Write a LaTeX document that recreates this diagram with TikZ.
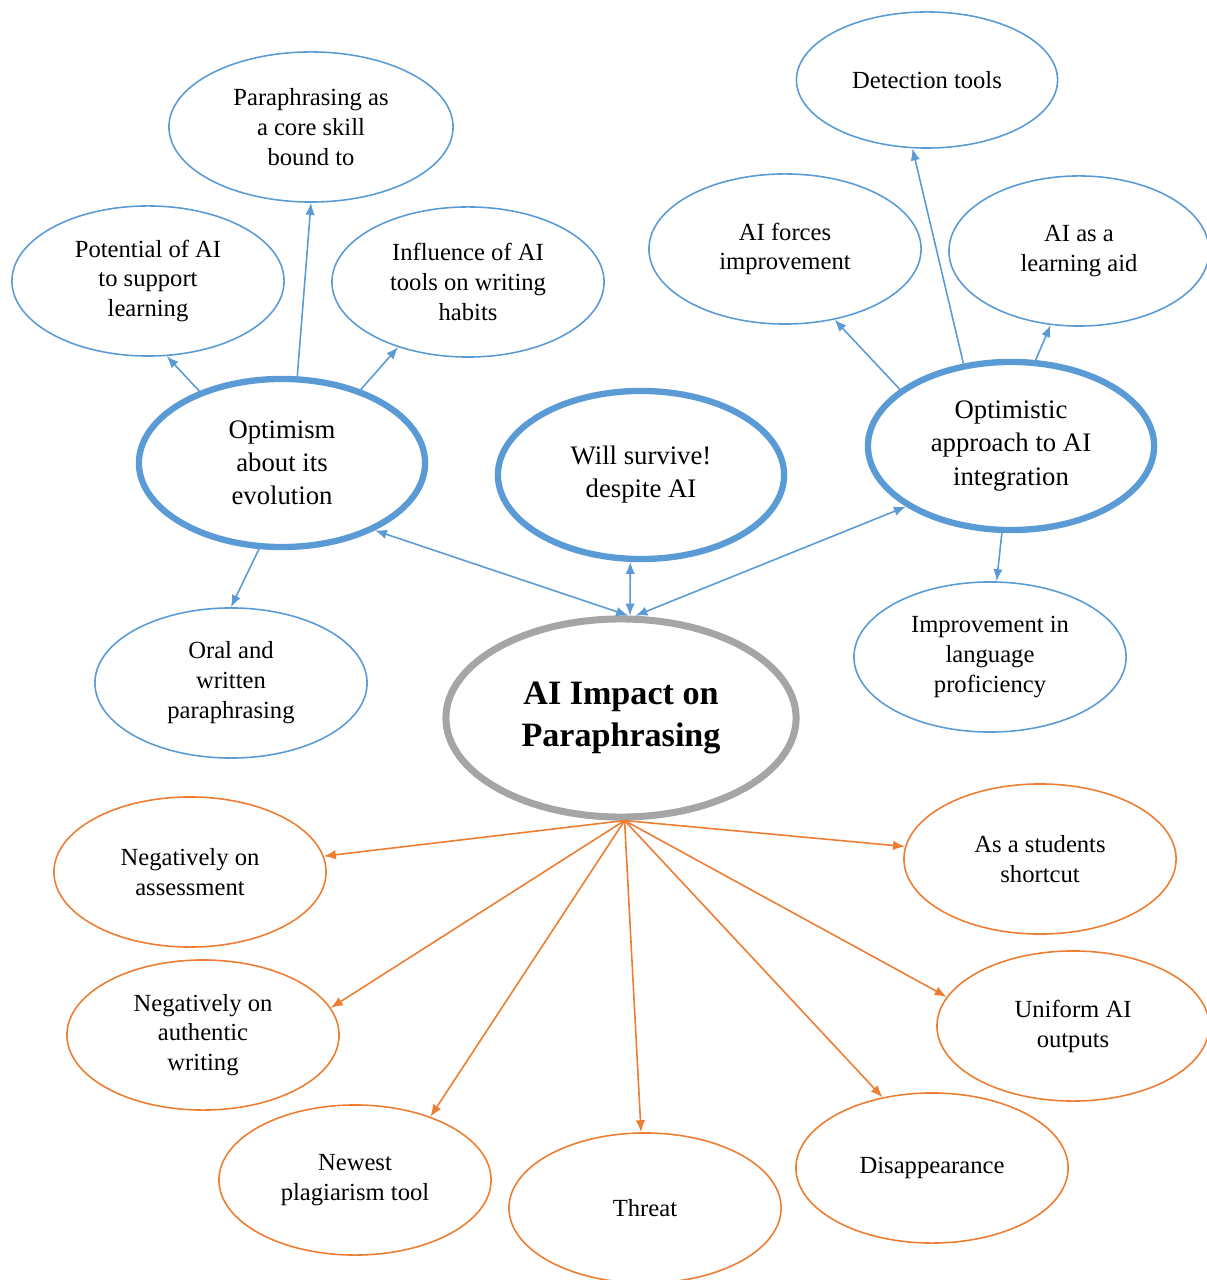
\documentclass[tikz,border=0pt]{standalone}
\usepackage{fontspec}
\setmainfont{Liberation Serif}
\usetikzlibrary{shapes.geometric,arrows.meta}
\definecolor{topicblue}{HTML}{5B9BD5}
\definecolor{topicorange}{HTML}{ED7D31}
\definecolor{coregray}{HTML}{A5A5A5}
\begin{document}
\begin{tikzpicture}[x=0.01cm,y=-0.01cm,
	>={Latex[length=1.2mm,width=0.95mm]},
	leaf/.style={ellipse,draw,line width=0.45pt,inner sep=0pt,align=center,
		minimum width=2.72cm,minimum height=1.5cm,font=\fontsize{7}{8.5}\selectfont},
	blueleaf/.style={leaf,draw=topicblue},
	orangeleaf/.style={leaf,draw=topicorange},
	theme/.style={ellipse,draw=topicblue,line width=1.8pt,inner sep=0pt,align=center,
		minimum width=2.86cm,minimum height=1.68cm,font=\fontsize{7.6}{9.4}\selectfont},
	core/.style={ellipse,draw=coregray,line width=2pt,inner sep=0pt,align=center,
		minimum width=3.5cm,minimum height=1.98cm,font=\bfseries\fontsize{9.7}{11.9}\selectfont},
	bluearrow/.style={draw=topicblue,line width=0.45pt,->},
	bluedouble/.style={draw=topicblue,line width=0.45pt,<->},
	orangearrow/.style={draw=topicorange,line width=0.45pt,->}]
	\useasboundingbox (0,0) rectangle (1206,1280);
	
	\node[core]  (imp)  at (621, 718)  {AI Impact on\\Paraphrasing};
	
	\node[theme] (opt)  at (282, 463)  {Optimism\\about its\\evolution};
	\node[theme] (will) at (641, 475)  {Will survive!\\despite AI};
	\node[theme] (app)  at (1011, 446) {Optimistic\\approach to AI\\integration};
	
	\node[blueleaf] (pot)  at (148, 281)  {Potential of AI\\to support\\learning};
	\node[blueleaf,minimum width=2.84cm] (core) at (311, 127) {Paraphrasing as\\a core skill\\bound to};
	\node[blueleaf] (infl) at (468, 282)  {Influence of AI\\tools on writing\\habits};
	\node[blueleaf] (oral) at (231, 683)  {Oral and\\written\\paraphrasing};
	\node[blueleaf,minimum width=2.61cm,minimum height=1.36cm] (det) at (927, 80) {Detection tools};
	\node[blueleaf] (forc) at (785, 249)  {AI forces\\improvement};
	\node[blueleaf,minimum width=2.6cm] (aid) at (1079, 251) {AI as a\\learning aid};
	\node[blueleaf] (prof) at (990, 657)  {Improvement in\\language\\proficiency};
	
	\node[orangeleaf] (asse) at (190, 872)  {Negatively on\\assessment};
	\node[orangeleaf] (shor) at (1040, 859) {As a students\\shortcut};
	\node[orangeleaf] (auth) at (203, 1035) {Negatively on\\authentic\\writing};
	\node[orangeleaf] (unif) at (1073, 1026) {Uniform AI\\outputs};
	\node[orangeleaf] (newt) at (355, 1180) {Newest\\plagiarism tool};
	\node[orangeleaf] (thr)  at (645, 1208) {Threat};
	\node[orangeleaf] (dis)  at (932, 1168) {Disappearance};
	
	% upper branches
	\draw[bluearrow] (opt.139) -- (pot.-76);
	\draw[bluearrow] (opt.80) -- (core.south);
	\draw[bluearrow] (opt.43) -- (infl.-137);
	\draw[bluearrow] (opt.-105) -- (oral.north);
	\draw[bluearrow] (app.153) -- (forc.-55);
	\draw[bluearrow] (app.120) -- (det.-102);
	\draw[bluearrow] (app.74) -- (aid.-111);
	\draw[bluearrow] (app.-96) -- (prof.85);
	\draw[bluedouble] (imp.86) -- (opt.-36);
	\draw[bluedouble] (imp.85) -- (will.-97);
	\draw[bluedouble] (imp.82) -- (app.210);
	
	% lower branches
	\draw[orangearrow] (imp.-88) -- (asse);
	\draw[orangearrow] (imp.-88) -- (shor);
	\draw[orangearrow] (imp.-88) -- (auth.12);
	\draw[orangearrow] (imp.-88) -- (unif.167);
	\draw[orangearrow] (imp.-88) -- (newt.40);
	\draw[orangearrow] (imp.-88) -- (thr.93);
	\draw[orangearrow] (imp.-88) -- (dis.125);
\end{tikzpicture}
\end{document}
